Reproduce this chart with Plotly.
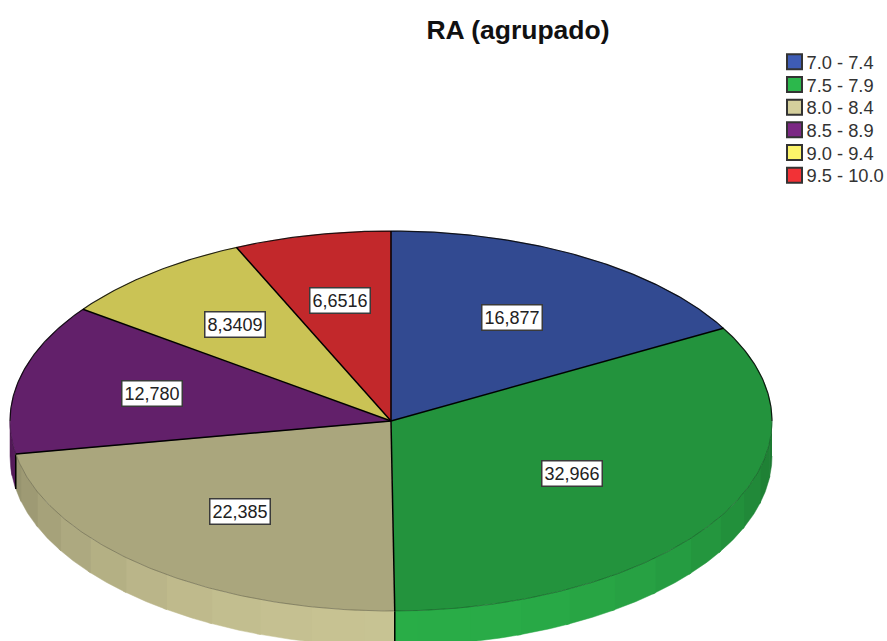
import math
import plotly.graph_objects as go

title = "RA (agrupado)"
categories = ["7.0 - 7.4", "7.5 - 7.9", "8.0 - 8.4", "8.5 - 8.9", "9.0 - 9.4", "9.5 - 10.0"]
percent = [16.877, 32.966, 22.385, 12.780, 8.3409, 6.6516]
value_labels = ["16,877", "32,966", "22,385", "12,780", "8,3409", "6,6516"]
base_colors = ["#3E5CB5", "#2CB84C", "#D4CF9C", "#7B2884", "#FCF46A", "#F23236"]

# page geometry of the tilted pie
W, H = 887, 641
CX, CY, RX, RY, DEPTH = 391, 421, 381, 190, 35
TILT = RY / RX
DROP = DEPTH / RX
LABEL_R = [0.63, 0.55, 0.62, 0.645, 0.65, 0.65]
TOP_SHADE = 0.8
FACET = 8.0


def shade(hex_color, k):
    r, g, b = (int(hex_color[i:i + 2], 16) for i in (1, 3, 5))
    return f"rgb({min(255, round(r * k))},{min(255, round(g * k))},{min(255, round(b * k))})"


def px(a):
    return math.sin(math.radians(a))


def py(a):
    return math.cos(math.radians(a)) * TILT


def arc(a0, a1, step=0.5):
    n = max(2, int(abs(a1 - a0) / step) + 1)
    return [a0 + (a1 - a0) * i / (n - 1) for i in range(n)]


total = sum(percent)
edges = [0.0]
for v in percent:
    edges.append(edges[-1] + v / total * 360)

fig = go.Figure()

# side wall: facets of the front half
for i, c in enumerate(base_colors):
    lo, hi = max(edges[i], 90), min(edges[i + 1], 270)
    if lo >= hi:
        continue
    a = lo
    while a < hi - 1e-6:
        b = min((math.floor(a / FACET + 1e-9) + 1) * FACET, hi)
        # each facet runs slightly under its neighbour so no seam shows
        ang = arc(a, min(b + 0.6, 270))
        k = 0.64 + 0.30 * max(0.0, math.cos(math.radians((a + b) / 2 - 180))) ** 0.9
        col = shade(c, k)
        fig.add_trace(go.Scatter(
            x=[px(t) for t in ang] + [px(t) for t in reversed(ang)],
            y=[py(t) for t in ang] + [py(t) - DROP for t in reversed(ang)],
            mode="lines", fill="toself", fillcolor=col,
            line=dict(color=col, width=0.5), hoverinfo="skip", showlegend=False))
        a = b

# side wall separators
for e in edges:
    if 90 < e < 270:
        fig.add_trace(go.Scatter(x=[px(e), px(e)], y=[py(e), py(e) - DROP], mode="lines",
                                 line=dict(color="black", width=1.5), hoverinfo="skip", showlegend=False))

# top surface wedges
for i, c in enumerate(base_colors):
    ang = arc(edges[i], edges[i + 1])
    col = shade(c, TOP_SHADE)
    fig.add_trace(go.Scatter(
        x=[0] + [px(t) for t in ang] + [0],
        y=[0] + [py(t) for t in ang] + [0],
        mode="lines", fill="toself", fillcolor=col,
        line=dict(color=col, width=0.5),
        name=categories[i], text=value_labels[i], hoverinfo="name+text", showlegend=False))

# rim of the top surface
back = arc(-90, 90)
front = arc(90, 270)
fig.add_trace(go.Scatter(x=[px(t) for t in back], y=[py(t) for t in back], mode="lines",
                         line=dict(color="rgba(0,0,0,0.85)", width=1.2), hoverinfo="skip", showlegend=False))
fig.add_trace(go.Scatter(x=[px(t) for t in front], y=[py(t) for t in front], mode="lines",
                         line=dict(color="rgba(0,0,0,0.25)", width=1), hoverinfo="skip", showlegend=False))

# radii
for e in edges[:-1]:
    fig.add_trace(go.Scatter(x=[0, px(e)], y=[0, py(e)], mode="lines",
                             line=dict(color="black", width=1.5), hoverinfo="skip", showlegend=False))

# legend block on its own axes: swatches on x2/y2, their texts on x3/y3 (a touch lower)
fig.add_trace(go.Scatter(
    x=[0] * len(categories), y=categories, xaxis="x2", yaxis="y2",
    mode="markers",
    marker=dict(symbol="square", size=15, color=base_colors, line=dict(color="#333333", width=2)),
    hoverinfo="skip", showlegend=False, cliponaxis=False))
fig.add_trace(go.Scatter(
    x=[12] * len(categories), y=categories, xaxis="x3", yaxis="y3",
    mode="text", text=categories, textposition="middle right",
    textfont=dict(family="Liberation Sans", size=18.3, color="#333333"),
    hoverinfo="skip", showlegend=False, cliponaxis=False))

annotations = []
for i, lab in enumerate(value_labels):
    mid = (edges[i] + edges[i + 1]) / 2
    annotations.append(dict(
        x=px(mid) * LABEL_R[i], y=py(mid) * LABEL_R[i], xref="x", yref="y", text=lab, showarrow=False,
        font=dict(family="Liberation Sans", size=18, color="#222222"),
        bgcolor="white", bordercolor="#3A3A3A", borderwidth=1.5, borderpad=2))

fig.update_layout(
    width=W, height=H, margin=dict(l=0, r=0, t=0, b=0, pad=0),
    paper_bgcolor="white", plot_bgcolor="rgba(0,0,0,0)", showlegend=False,
    title=dict(text=f"<b>{title}</b>", x=518 / W, y=1 - 30 / H, xanchor="center", yanchor="middle", xref="paper", yref="paper",
               font=dict(family="Liberation Sans", size=26.5, color="#111111")),
    xaxis=dict(range=[-CX / RX, (W - CX) / RX], visible=False, domain=[0, 1]),
    yaxis=dict(range=[(CY - H) / RX, CY / RX], visible=False, domain=[0, 1]),
    xaxis2=dict(range=[-8.5, 92.5], visible=False, domain=[786 / W, 1], anchor="y2"),
    yaxis2=dict(type="category", categoryorder="array", categoryarray=categories, range=[5.5, -0.5],
                visible=False, domain=[1 - 186.5 / H, 1 - 50.5 / H], anchor="x2"),
    xaxis3=dict(range=[-8.5, 92.5], visible=False, domain=[786 / W, 1], anchor="y3"),
    yaxis3=dict(type="category", categoryorder="array", categoryarray=categories, range=[5.5, -0.5],
                visible=False, domain=[1 - 189 / H, 1 - 53 / H], anchor="x3"),
    annotations=annotations,
)

fig.write_html("out.html", config={"displayModeBar": False}, post_script="document.body.style.margin='0';")
